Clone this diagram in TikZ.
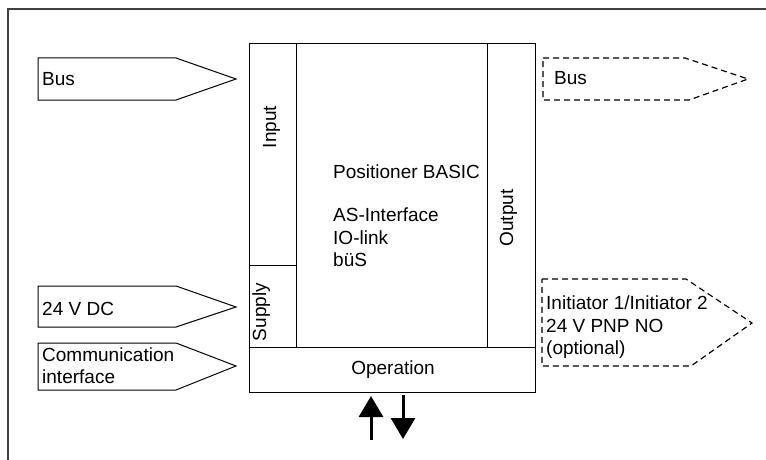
\documentclass[tikz,border=0pt]{standalone}
\usepackage{fontspec}
\setmainfont{Liberation Sans}
\usetikzlibrary{arrows.meta}

\tikzset{
  lbl/.style={font=\fontsize{19}{22.5}\selectfont, inner sep=0pt},
  tag/.style={draw, line width=1pt, line join=miter},
  opt/.style={tag, line width=1.2pt, dash pattern=on 6pt off 4pt},
  flow/.style={line width=3pt, -{Triangle[width=24pt,length=21pt]}},
}

\begin{document}
\begin{tikzpicture}[x=1pt,y=-1pt]
            \useasboundingbox (0,0) rectangle (766,460);
            \draw[line width=1.4pt, black!75] (8,470) -- (8,9) -- (776,9);
            % positioner block
            \draw[tag] (249,44) rectangle (535,392);
            \draw[tag] (296,44) -- (296,347);
            \draw[tag] (487,44) -- (487,347);
            \draw[tag] (249,265) -- (296,265);
            \draw[tag] (249,347) -- (535,347);
            \node[lbl, rotate=90, anchor=base] (input) at (276,127) {Input};
            \node[lbl, rotate=90, anchor=base] (supply) at (266,312) {Supply};
            \node[lbl, rotate=90, anchor=base] (output) at (513,218) {Output};
            \node[lbl, anchor=base] (operation) at (393,374.5) {Operation};
            \node[lbl, anchor=base west] (title) at (333,178.5) {Positioner BASIC};
            \node[lbl, anchor=base west] (asi) at (333,221.5) {AS-Interface};
            \node[lbl, anchor=base west] (iolink) at (333,244) {IO-link};
            \node[lbl, anchor=base west] (bues) at (333,266.5) {büS};
            % inputs
            \draw[tag] (38,58) -- (176,58) -- (236,79) -- (176,100) -- (38,100) -- cycle;
            \node[lbl, anchor=base west] (busin) at (42,85.5) {Bus};
            \draw[tag] (38,286) -- (176,286) -- (236,307) -- (176,327) -- (38,327) -- cycle;
            \node[lbl, anchor=base west] (dc) at (42,315.5) {24 V DC};
            \draw[tag] (38,343) -- (176,343) -- (236,366) -- (176,390) -- (38,390) -- cycle;
            \node[lbl, anchor=base west] (comm) at (42,361.5) {Communication};
            \node[lbl, anchor=base west] (commif) at (42,383) {interface};
            % optional outputs
            \draw[opt] (543,58) -- (685,58) -- (748,79) -- (689,100) -- (543,100) -- cycle;
            \node[lbl, anchor=base west] (busout) at (554,84.5) {Bus};
            \draw[opt] (542,279) -- (686,279) -- (752,323) -- (691,366) -- (542,366) -- cycle;
            \node[lbl, anchor=base west] (init) at (546,309) {Initiator 1/Initiator 2};
            \node[lbl, anchor=base west] (pnp) at (546,332) {24 V PNP NO};
            \node[lbl, anchor=base west] (optional) at (546,354) {(optional)};
            % operation arrows
            \coordinate (upfoot) at (371,440);
            \coordinate (uptip) at (371,396);
            \coordinate (downtop) at (403,395);
            \coordinate (downtip) at (403,439);
            \draw[flow] (upfoot) -- (uptip);
            \draw[flow] (downtop) -- (downtip);
\end{tikzpicture}
\end{document}
